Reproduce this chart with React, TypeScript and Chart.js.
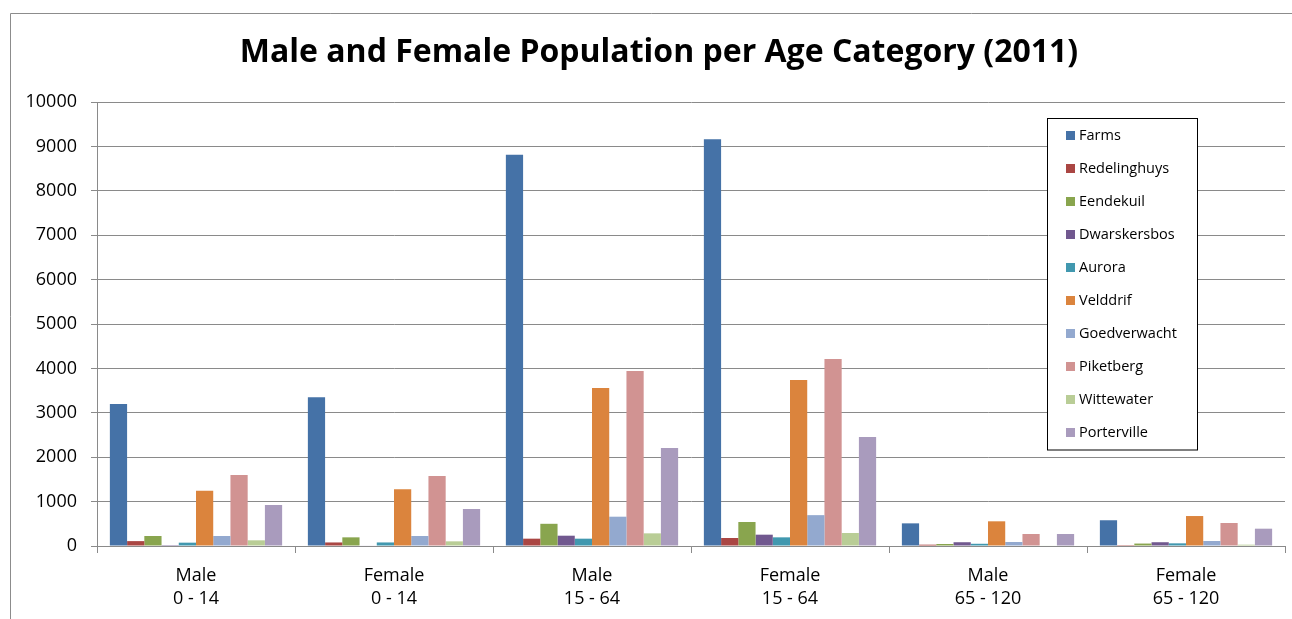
import { useEffect, useRef } from "react";
import { Chart, registerables } from "chart.js";

Chart.register(...registerables);

const FONT = "'Open Sans', sans-serif";
const GRID = "#8a8a8a";

const titleText = "Male and Female Population per Age Category (2011)";

const categories = [
  ["Male", "0 - 14"],
  ["Female", "0 - 14"],
  ["Male", "15 - 64"],
  ["Female", "15 - 64"],
  ["Male", "65 - 120"],
  ["Female", "65 - 120"],
];

const seriesNames = [
  "Farms",
  "Redelinghuys",
  "Eendekuil",
  "Dwarskersbos",
  "Aurora",
  "Velddrif",
  "Goedverwacht",
  "Piketberg",
  "Wittewater",
  "Porterville",
];

const farms = [3200, 3350, 8810, 9160, 510, 580];
const redelinghuys = [110, 80, 165, 180, 30, 20];
const eendekuil = [225, 195, 500, 540, 45, 55];
const dwarskersbos = [20, 10, 232, 255, 85, 85];
const aurora = [75, 80, 165, 195, 50, 60];
const velddrif = [1245, 1277, 3558, 3739, 556, 675];
const goedverwacht = [225, 225, 660, 695, 90, 113];
const piketberg = [1600, 1575, 3941, 4212, 270, 518];
const wittewater = [128, 105, 285, 293, 10, 30];
const porterville = [923, 833, 2207, 2455, 270, 390];

const seriesData = [
  farms,
  redelinghuys,
  eendekuil,
  dwarskersbos,
  aurora,
  velddrif,
  goedverwacht,
  piketberg,
  wittewater,
  porterville,
];

const colors = [
  "#4572A7",
  "#AA4643",
  "#89A54E",
  "#71588F",
  "#4198AF",
  "#DB843D",
  "#93A9CF",
  "#D19392",
  "#B9CD96",
  "#A99BBD",
];

const decor = {
  id: "decor",
  afterDraw(chart: any) {
    const ctx = chart.ctx as CanvasRenderingContext2D;
    ctx.save();
    // outer frame (top and left visible)
    ctx.strokeStyle = "#8c8c8c";
    ctx.lineWidth = 1;
    ctx.beginPath();
    ctx.moveTo(10.5, 619);
    ctx.lineTo(10.5, 13.5);
    ctx.lineTo(1292, 13.5);
    ctx.stroke();

    // title
    ctx.fillStyle = "#000";
    ctx.font = `bold 32px ${FONT}`;
    ctx.textAlign = "center";
    ctx.textBaseline = "alphabetic";
    ctx.fillText(titleText, 659, 62);

    // legend
    const lx = 1047.5, ly = 118.5, lw = 150, lh = 331.5;
    ctx.fillStyle = "#fff";
    ctx.fillRect(lx, ly, lw, lh);
    ctx.strokeStyle = "#000";
    ctx.strokeRect(lx, ly, lw, lh);
    ctx.font = `14.5px ${FONT}`;
    ctx.textAlign = "left";
    chart.data.datasets.forEach((ds: any, i: number) => {
      const base = 140 + 33 * i;
      ctx.fillStyle = ds.backgroundColor;
      ctx.fillRect(1066, base - 9, 9, 9);
      ctx.fillStyle = "#000";
      ctx.fillText(ds.label, 1079, base);
    });
    ctx.restore();
  },
};

export default function App() {
  const ref = useRef<HTMLCanvasElement>(null);
  useEffect(() => {
    const chart = new Chart(ref.current!, {
      type: "bar",
      data: {
        labels: categories,
        datasets: seriesNames.map((n, i) => ({
          label: n,
          data: seriesData[i],
          backgroundColor: colors[i],
          borderWidth: 0,
          categoryPercentage: 0.87,
          barPercentage: 1,
        })),
      },
      options: {
        responsive: false,
        animation: false,
        layout: { padding: { left: 10, right: 7, top: 102, bottom: 0 } },
        plugins: {
          legend: { display: false },
          title: { display: false },
          tooltip: { enabled: false },
        },
        scales: {
          x: {
            offset: true,
            grid: {
              display: true,
              offset: true,
              drawOnChartArea: false,
              drawTicks: true,
              tickLength: 7,
              color: GRID,
            },
            border: { color: GRID },
            ticks: {
              font: { family: FONT, size: 18, lineHeight: 1.28 },
              color: "#000",
              padding: 11,
              maxRotation: 0,
              autoSkip: false,
            },
            afterFit: (s: any) => {
              s.height = 73;
            },
          },
          y: {
            min: 0,
            max: 10000,
            ticks: {
              stepSize: 1000,
              font: { family: FONT, size: 18 },
              color: "#000",
              padding: 14,
              callback: (v: any) => String(v),
            },
            grid: { color: GRID, tickLength: 6 },
            border: { color: GRID },
            afterFit: (s: any) => {
              s.width = 87;
            },
          },
        },
      },
      plugins: [decor],
    });
    return () => chart.destroy();
  }, []);
  return (
    <div style={{ position: "absolute", left: 0, top: 0, width: 1292, height: 619 }}>
      <canvas ref={ref} width={1292} height={619} />
    </div>
  );
}
